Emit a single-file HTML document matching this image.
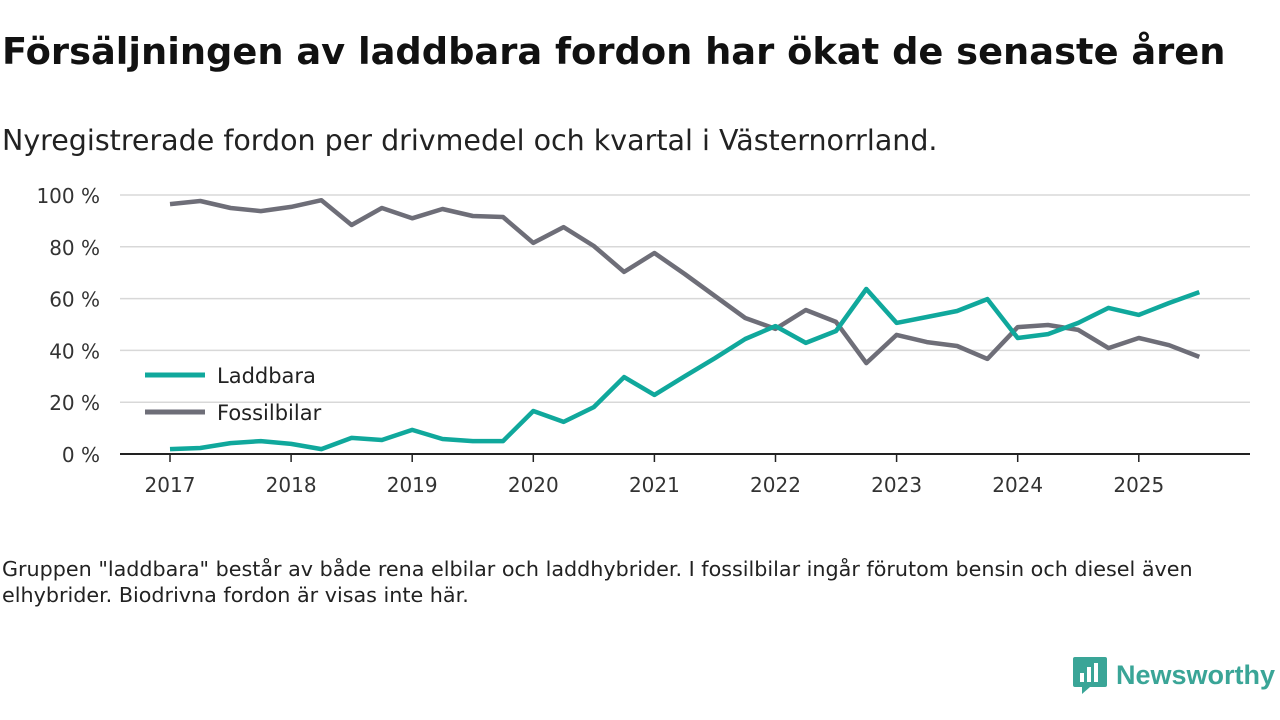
<!DOCTYPE html>
<html><head><meta charset="utf-8">
<style>
body{margin:0;width:1280px;height:720px;background:#fff;font-family:"DejaVu Sans","Liberation Sans",sans-serif;color:#111;overflow:hidden;position:relative}
h1{position:absolute;left:2px;top:30px;margin:0;font-size:36.8px;font-weight:bold;white-space:nowrap}
.sub{position:absolute;left:2px;top:124px;font-size:28.5px;color:#222;white-space:nowrap}
.note{position:absolute;left:2px;top:556px;font-size:20.7px;line-height:26px;color:#222;width:1220px}
.logo{position:absolute;left:1072px;top:655px;display:flex;align-items:center}
.logo span{font-family:"Liberation Sans",sans-serif;font-size:27px;font-weight:bold;color:#3aa597;margin-left:8px}
</style></head><body>
<h1>Försäljningen av laddbara fordon har ökat de senaste åren</h1>
<div class="sub">Nyregistrerade fordon per drivmedel och kvartal i Västernorrland.</div>
<svg id="chart" width="1280" height="720" style="position:absolute;left:0;top:0"></svg>
<div class="note">Gruppen "laddbara" består av både rena elbilar och laddhybrider. I fossilbilar ingår förutom bensin och diesel även elhybrider. Biodrivna fordon är visas inte här.</div>
<div class="logo">
<svg width="36" height="40" viewBox="0 0 36 40"><path d="M3 2h30a2 2 0 0 1 2 2v26a2 2 0 0 1-2 2H18l-8 7v-7H3a2 2 0 0 1-2-2V4a2 2 0 0 1 2-2z" fill="#3aa597"/><rect x="8" y="18" width="4" height="9" fill="#fff"/><rect x="15" y="12" width="4" height="15" fill="#fff"/><rect x="22" y="8" width="4" height="19" fill="#fff"/></svg>
<span>Newsworthy</span></div>
<script>
const years=[2017,2018,2019,2020,2021,2022,2023,2024,2025];
const yTicks=[0,20,40,60,80,100];
const laddbara=[1.9,2.3,4.2,5,3.9,1.9,6.2,5.4,9.3,5.8,5,5,16.6,12.4,18.1,29.7,22.8,30,37,44.4,49.4,42.9,47.5,63.7,50.6,52.9,55.2,59.8,44.8,46.3,50.6,56.4,53.7,58.3,62.5];
const fossil=[96.5,97.7,95,93.8,95.4,98,88.4,95,91,94.6,91.9,91.5,81.5,87.6,80.3,70.3,77.6,69.5,61,52.5,48.3,55.6,51,35.1,46,43.2,41.7,36.7,49,49.8,47.9,40.9,44.8,42,37.5];
const svg=document.getElementById('chart');const NS='http://www.w3.org/2000/svg';
const x=t=>170+(t-2017)*121.1;const y=v=>454-v*2.59;
function el(tag,a,p){const e=document.createElementNS(NS,tag);for(const k in a)e.setAttribute(k,a[k]);(p||svg).appendChild(e);return e;}
yTicks.forEach(v=>{
 if(v>0){const g=el('line',{x1:120,x2:1250,y1:y(v),y2:y(v),stroke:'#d8d8d8','stroke-width':1.5});
 
 }
 const t=el('text',{x:100,y:y(v)+8,'text-anchor':'end','font-size':20,fill:'#333','font-family':'DejaVu Sans, sans-serif'});t.textContent=v+' %';
 
 
});
const ax=el('line',{x1:120,x2:1250,y1:454,y2:454,stroke:'#222','stroke-width':2});


years.forEach(yr=>{
 el('line',{x1:x(yr),x2:x(yr),y1:454,y2:462,stroke:'#222','stroke-width':1.5});
 const t=el('text',{x:x(yr),y:492,'text-anchor':'middle','font-size':20,fill:'#333','font-family':'DejaVu Sans, sans-serif'});t.textContent=yr;
 
 
});
function line(data,color,name){
 const d=data.map((v,i)=>(i?'L':'M')+x(2017+i/4).toFixed(1)+' '+y(v).toFixed(1)).join(' ');
 const p=el('path',{d:d,fill:'none',stroke:color,'stroke-width':4.5,'stroke-linejoin':'round'});
 
 
}
line(fossil,'#6e6e78','fossilbilar-line');
line(laddbara,'#10a89c','laddbara-line');
[['Laddbara','#10a89c',375],['Fossilbilar','#6e6e78',412]].forEach(([n,c,yy])=>{
 const g=el('g',{});
 
 
 el('line',{x1:145,x2:205,y1:yy,y2:yy,stroke:c,'stroke-width':5},g);
 const t=el('text',{x:217,y:yy+8,'font-size':21,fill:'#222','font-family':'DejaVu Sans, sans-serif'},g);t.textContent=n;
});
</script>
</body></html>
